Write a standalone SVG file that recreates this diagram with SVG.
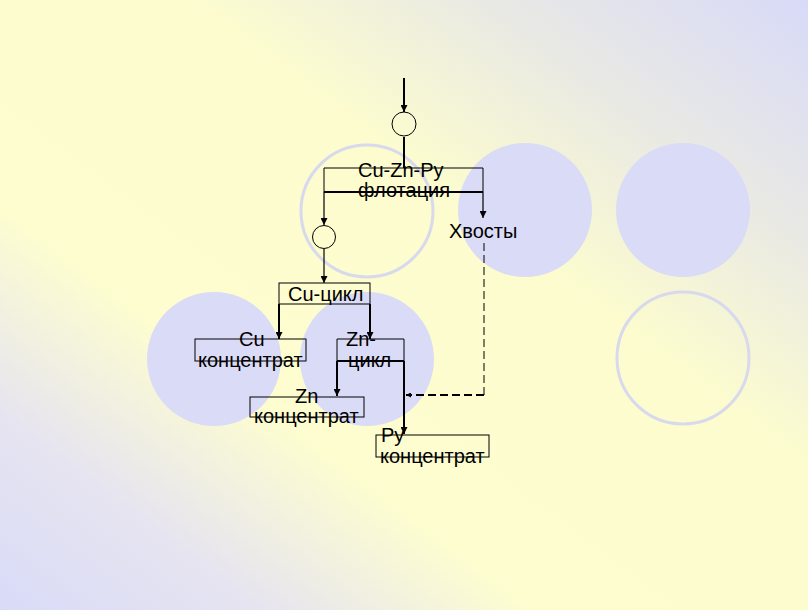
<svg xmlns="http://www.w3.org/2000/svg" width="808" height="610" viewBox="0 0 808 610">
<defs>
<linearGradient id="bg" x1="0" y1="1" x2="1" y2="0">
<stop offset="0" stop-color="#d9dbf8"/>
<stop offset="0.16" stop-color="#e6e4f0"/>
<stop offset="0.33" stop-color="#fdfdd0"/>
<stop offset="0.62" stop-color="#fcfccf"/>
<stop offset="0.8" stop-color="#e9e9e4"/>
<stop offset="1" stop-color="#d8daf8"/>
</linearGradient>
<marker id="ah" viewBox="0 0 10 10" refX="10" refY="5" markerWidth="7" markerHeight="7" markerUnits="userSpaceOnUse" orient="auto">
<path d="M0,0 L10,5 L0,10 Z" fill="#000"/>
</marker>
<marker id="ahs" viewBox="0 0 10 10" refX="10" refY="5" markerWidth="5" markerHeight="5" markerUnits="userSpaceOnUse" orient="auto">
<path d="M0,0 L10,5 L0,10 Z" fill="#000"/>
</marker>
</defs>
<style>
.lbl{font-family:"Liberation Sans",Arial,sans-serif;font-size:20px;fill:#000}
.box{fill:none;stroke:#000;stroke-width:1}
.ln{fill:none;stroke:#000;stroke-width:2}
.thin{fill:none;stroke:#000;stroke-width:1.2}
.dash{fill:none;stroke:#000;stroke-dasharray:8,4}
.deco{fill:#dadbf6}
.ring{fill:none;stroke:#d9d9ee;stroke-width:3}
.mix{fill:none;stroke:#000;stroke-width:1}
</style>
<rect x="0" y="0" width="808" height="610" fill="url(#bg)"/>
<g id="decor">
<circle class="ring" cx="367" cy="211" r="66"/>
<circle class="deco" cx="525" cy="210" r="67"/>
<circle class="deco" cx="683" cy="210" r="67"/>
<circle class="ring" cx="683" cy="358" r="66"/>
<circle class="deco" cx="214" cy="359" r="67"/>
<circle class="deco" cx="367" cy="359" r="67"/>
</g>
<g id="connectors">
<path class="ln" d="M404,78 V112" marker-end="url(#ah)"/>
<path class="ln" d="M404,137 V168"/>
<path class="thin" d="M324,192 V225" marker-end="url(#ah)"/>
<path class="thin" d="M483,192 V218" marker-end="url(#ah)"/>
<path class="thin" d="M324,249 V283" marker-end="url(#ah)"/>
<path class="ln" d="M279,304 V339" marker-end="url(#ah)"/>
<path class="ln" d="M370,304 V339" marker-end="url(#ah)"/>
<path class="ln" d="M337,361 V396" marker-end="url(#ah)"/>
<path class="ln" d="M404,361 V434" marker-end="url(#ah)"/>
<path class="dash" stroke-width="1" d="M484,243 V395"/>
<path class="dash" stroke-width="2" stroke-dasharray="7,3" d="M484,395 H406" marker-end="url(#ahs)"/>
</g>
<g id="mix1">
<circle class="mix" cx="404" cy="124" r="12"/>
</g>
<g id="flotation">
<path class="box" d="M324,192 V168 H483 V192"/>
<path class="ln" d="M324,192 H483"/>
<text class="lbl" x="358" y="177">Cu-Zn-Py</text>
<text class="lbl" x="358" y="197">флотация</text>
</g>
<g id="tails">
<text class="lbl" x="449" y="238">Хвосты</text>
</g>
<g id="mix2">
<circle class="mix" cx="324" cy="237" r="11.5"/>
</g>
<g id="cu-cycle">
<rect class="box" x="279" y="283" width="91" height="21"/>
<text class="lbl" x="288" y="301">Cu-цикл</text>
</g>
<g id="cu-conc">
<rect class="box" x="195" y="339" width="111" height="22"/>
<text class="lbl" x="239" y="346">Cu</text>
<text class="lbl" x="198" y="367">концентрат</text>
</g>
<g id="zn-cycle">
<path class="box" d="M337,361 V339 H404 V361"/>
<path class="ln" d="M337,361 H404" stroke-width="1.5"/>
<text class="lbl" x="346" y="346">Zn-</text>
<text class="lbl" x="348" y="367">цикл</text>
</g>
<g id="zn-conc">
<rect class="box" x="250" y="397" width="114" height="20"/>
<text class="lbl" x="295" y="403">Zn</text>
<text class="lbl" x="254" y="423">концентрат</text>
</g>
<g id="py-conc">
<rect class="box" x="376" y="435" width="113" height="22"/>
<text class="lbl" x="381" y="442">Py</text>
<text class="lbl" x="380" y="463">концентрат</text>
</g>
</svg>
